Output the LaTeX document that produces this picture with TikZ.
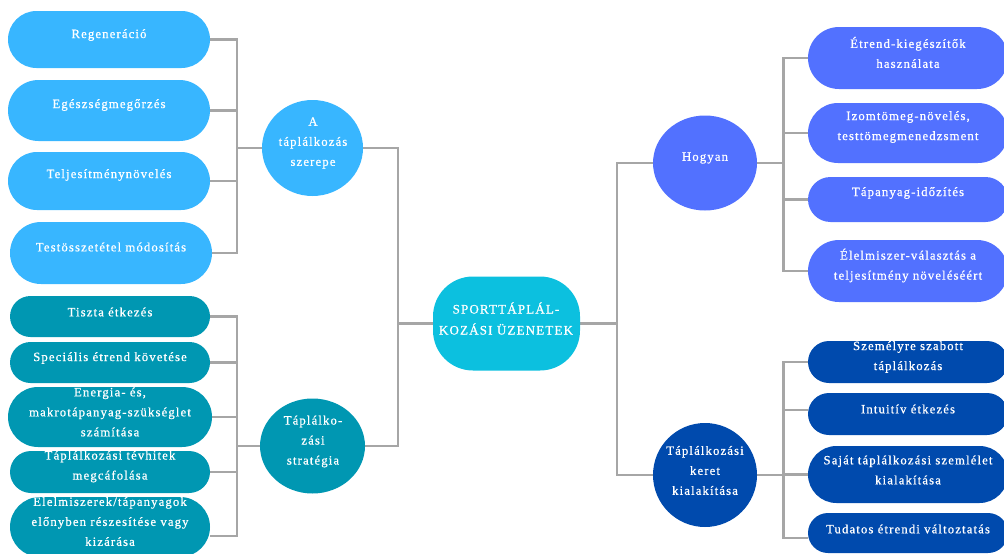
\documentclass[tikz,border=0pt]{standalone}
\usepackage{fontspec}
\setmainfont{Liberation Serif}[LetterSpace=9, FakeBold=0.7]
\usetikzlibrary{shapes.geometric,shapes.misc,backgrounds,calc}
\definecolor{cLight}{HTML}{38B6FF}
\definecolor{cTeal}{HTML}{0097B2}
\definecolor{cCyan}{HTML}{0CC0DF}
\definecolor{cBlue}{HTML}{5271FF}
\definecolor{cNavy}{HTML}{004AAD}
\definecolor{cLine}{HTML}{A6A6A6}
\begin{document}
\begin{tikzpicture}[x=1pt,y=-1pt,
  pill/.style={rounded rectangle, inner sep=0pt, draw=none, minimum width=202},
  boxL/.style={pill, fill=cLight},
  boxT/.style={pill, fill=cTeal, minimum width=200},
  boxB/.style={pill, fill=cBlue, minimum width=200},
  boxN/.style={pill, fill=cNavy, minimum width=200},
  hub/.style={ellipse, inner sep=0pt, draw=none},
  txt/.style={text=white, align=center, inner sep=0pt, font=\fontsize{12.7}{20}\selectfont},
  conn/.style={draw=cLine, line width=2.6pt}
]
\useasboundingbox (0,0) rectangle (1004,554);

% centre
\node[rectangle, rounded corners=40, minimum width=147, minimum height=94, inner sep=0pt, fill=cCyan] (C) at (506.5,323.5) {};
\node[txt, font=\fontsize{13}{21}\selectfont] (Ct) at (506,318.5) {SPORTTÁPLÁL-\\KOZÁSI ÜZENETEK};

% hubs
\node[hub, fill=cLight, minimum width=101, minimum height=96] (A) at (312.5,148) {};
\node[txt] (At) at (313,143) {A\\táplálkozás\\szerepe};
\node[hub, fill=cTeal, minimum width=105, minimum height=95] (S) at (312.5,446) {};
\node[txt] (St) at (313,441.5) {Táplálko-\\zási\\stratégia};
\node[hub, fill=cBlue, minimum width=104, minimum height=95] (H) at (705,163) {};
\node[txt] (Ht) at (705,158) {Hogyan};
\node[hub, fill=cNavy, minimum width=104, minimum height=104] (K) at (705,475) {};
\node[txt] (Kt) at (705,470.5) {Táplálkozási\\keret\\kialakítása};

% left top
\node[boxL, minimum height=57] (a1) at (109,39.5) {};
\node[txt] (a1t) at (109,35) {Regeneráció};
\node[boxL, minimum height=61] (a2) at (109,110.5) {};
\node[txt] (a2t) at (109,105) {Egészségmegőrzés};
\node[boxL, minimum height=58] (a3) at (109,181) {};
\node[txt] (a3t) at (109,175) {Teljesítménynövelés};
\node[boxL, minimum height=62] (a4) at (111,253) {};
\node[txt] (a4t) at (111,247) {Testösszetétel módosítás};

% left bottom
\node[boxT, minimum height=41] (s1) at (110,316.5) {};
\node[txt] (s1t) at (110,312) {Tiszta étkezés};
\node[boxT, minimum height=41] (s2) at (110,362.5) {};
\node[txt] (s2t) at (110,358) {Speciális étrend követése};
\node[boxT, minimum height=60, minimum width=204] (s3) at (110,417) {};
\node[txt] (s3t) at (110,412) {Energia- és,\\makrotápanyag-szükséglet\\számítása};
\node[boxT, minimum height=42] (s4) at (110,472) {};
\node[txt] (s4t) at (110,466.5) {Táplálkozási tévhitek\\megcáfolása};
\node[boxT, minimum height=60] (s5) at (110,527) {};
\node[txt] (s5t) at (110,520.5) {Élelmiszerek/tápanyagok\\előnyben részesítése vagy\\kizárása};

% right top
\node[boxB, minimum height=62] (h1) at (908,58) {};
\node[txt] (h1t) at (908,52.5) {Étrend-kiegészítők\\használata};
\node[boxB, minimum height=60] (h2) at (908,133) {};
\node[txt] (h2t) at (908,127) {Izomtömeg-növelés,\\testtömegmenedzsment};
\node[boxB, minimum height=45] (h3) at (908,199.5) {};
\node[txt] (h3t) at (908,193) {Tápanyag-időzítés};
\node[boxB, minimum height=62] (h4) at (908,271) {};
\node[txt] (h4t) at (908,265.5) {Élelmiszer-választás a\\teljesítmény növeléséért};

% right bottom
\node[boxN, minimum height=42] (k1) at (908,362) {};
\node[txt] (k1t) at (908,357) {Személyre szabott\\táplálkozás};
\node[boxN, minimum height=42] (k2) at (908,414) {};
\node[txt] (k2t) at (908,409) {Intuitív étkezés};
\node[boxN, minimum height=57] (k3) at (908,474.5) {};
\node[txt] (k3t) at (908,470) {Saját táplálkozási szemlélet\\kialakítása};
\node[boxN, minimum height=40] (k4) at (908,533) {};
\node[txt] (k4t) at (908,529) {Tudatos étrendi változtatás};

\begin{scope}[on background layer]
  \coordinate (xL) at (398,0);
  \coordinate (xR) at (617,0);
  \coordinate (cL) at (C.west -| xL);
  \coordinate (cR) at (C.east -| xR);
  \draw[conn] (C.west) -- (cL);
  \draw[conn] (A.east) -| (cL);
  \draw[conn] (S.east) -| (cL);
  \draw[conn] (C.east) -- (cR);
  \draw[conn] (H.west) -| (cR);
  \draw[conn] (K.west) -| (cR);
  % A branches
  \path (A.west) ++(-25,0) coordinate (tA);
  \draw[conn] (A.west) -- (tA);
  \foreach \n in {a1,a2,a3,a4} \draw[conn] (tA) |- (\n.east);
  % S branches
  \path (S.west) ++(-23,0) coordinate (tS);
  \draw[conn] (S.west) -- (tS);
  \foreach \n in {s1,s2,s3,s4} \draw[conn] (tS) |- (\n.east);
  \draw[conn] (tS) |- ($(s5.east)+(0,9)$);
  % H branches
  \path (H.east) ++(26,0) coordinate (tH);
  \draw[conn] (H.east) -- (tH);
  \foreach \n in {h1,h2,h3,h4} \draw[conn] (tH) |- (\n.west);
  % K branches
  \path (K.east) ++(26,0) coordinate (tK);
  \draw[conn] (K.east) -- (tK);
  \draw[conn] (tK) |- (k1.west);
  \draw[conn] (tK) |- ($(k2.west)+(0,-4)$);
  \draw[conn] (tK) |- (k3.west);
  \draw[conn] (tK) |- ($(k4.west)+(0,5)$);
\end{scope}
\end{tikzpicture}
\end{document}
